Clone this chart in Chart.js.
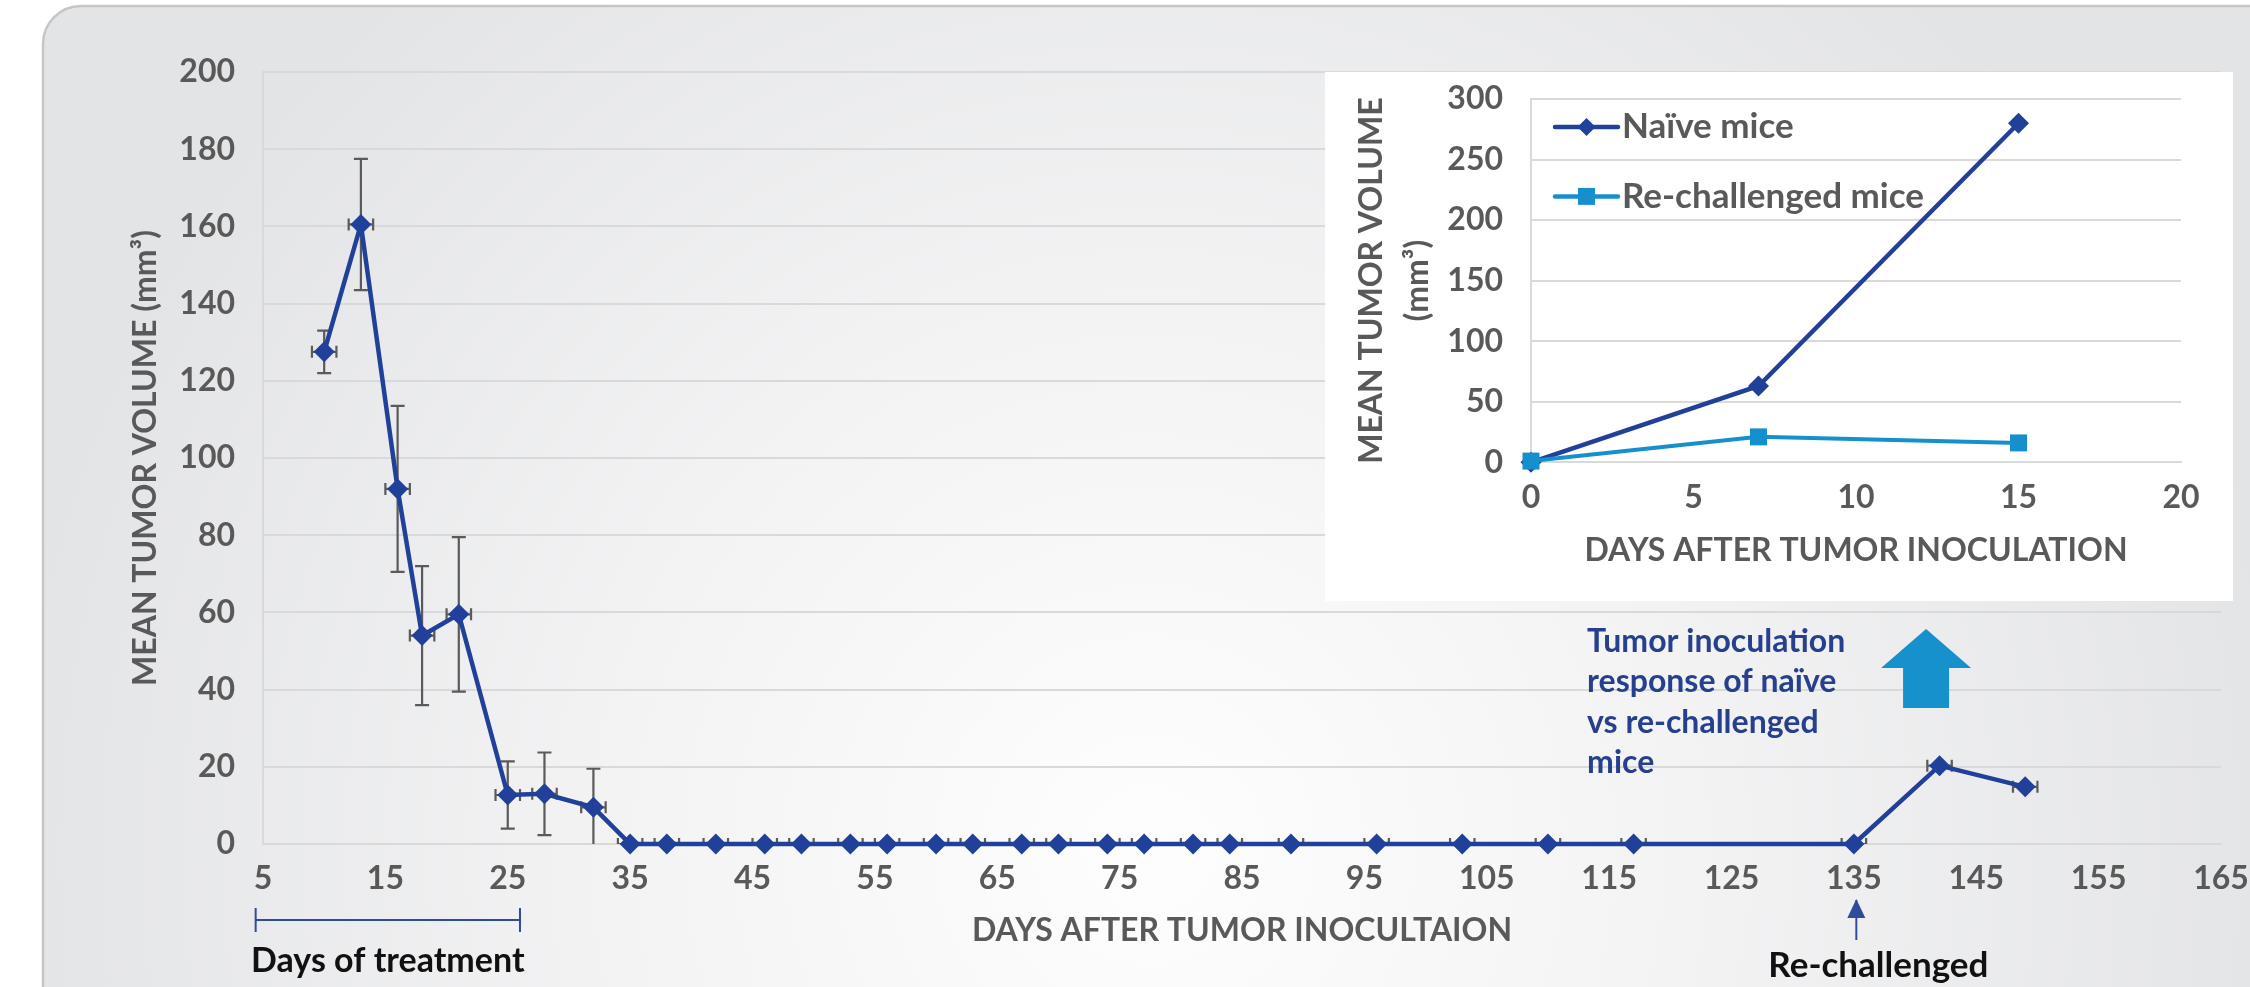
<!DOCTYPE html>
<html><head><meta charset="utf-8">
<script src="https://cdn.jsdelivr.net/npm/chart.js@4.4.1/dist/chart.umd.min.js"></script>
<style>
html,body{margin:0;padding:0;background:#fff;overflow:hidden;}
#wrap{position:relative;width:2250px;height:987px;}
#main{position:absolute;left:0;top:0;}
#inset{position:absolute;left:1325px;top:72px;}
</style></head><body>
<div id="wrap"><canvas id="main" width="2250" height="987"></canvas><canvas id="inset" width="908" height="529"></canvas></div>
<script>
// ---------- main chart data ----------
const days    = [10,13,16,18,21,25,28,32,35,38,42,46,49,53,56,60,63,67,70,74,77,81,84,89,96,103,110,117,135,142,149];
const volume  = [127.5,160.5,92,54,59.5,12.7,13,9.5,0,0,0,0,0,0,0,0,0,0,0,0,0,0,0,0,0,0,0,0,0,20.3,14.8];
const errVol  = [5.5,17,21.5,18,20,8.7,10.7,10,0,0,0,0,0,0,0,0,0,0,0,0,0,0,0,0,0,0,0,0,0,0,0];
const errDays = [1,1,1,1,1,1,1,1,1,1,1,1,1,1,1,1,1,1,1,1,1,1,1,1,1,1,1,1,1,1,1];
const xTickRange = [5,165,10];
const yTickRange = [0,200,20];

// ---------- inset chart data ----------
const insetDays    = [0,7,15];
const naive        = [0,63,280];
const rechallenged = [1,21,16];
const insetXRange  = [0,20,5];
const insetYRange  = [0,300,50];

const FONT = 'Lato';
const GRAY = '#595959';
const NAVY = '#21409a';
const LBLUE = '#1690cd';
const GRID = '#d9d9d9';

const panelPlugin = {
  id:'panel',
  beforeDraw(chart){
    const ctx = chart.ctx;
    ctx.save();
    ctx.fillStyle='#ffffff'; ctx.fillRect(0,0,chart.width,chart.height);
    const g = ctx.createRadialGradient(1150,850,40,1150,850,1150);
    g.addColorStop(0,'#fdfdfd'); g.addColorStop(0.45,'#f3f3f4'); g.addColorStop(1,'#e3e4e6');
    ctx.beginPath(); ctx.roundRect(43,6,2300,1100,38);
    ctx.fillStyle=g; ctx.fill();
    ctx.lineWidth=2.5; ctx.strokeStyle='#c6c6c6'; ctx.stroke();
    ctx.restore();
  }
};

const errorBarPlugin = {
  id:'errorBars',
  beforeDatasetsDraw(chart){
    const {ctx, chartArea:a, scales:{x,y}} = chart;
    ctx.save();
    ctx.beginPath(); ctx.rect(a.left, a.top, a.right-a.left, a.bottom-a.top); ctx.clip();
    ctx.strokeStyle='#5a5a5a'; ctx.lineWidth=2.2;
    days.forEach((d,i)=>{
      const px=x.getPixelForValue(d), py=y.getPixelForValue(volume[i]);
      const cap=7;
      if (errVol[i]>0){
        const t=y.getPixelForValue(volume[i]+errVol[i]), b=y.getPixelForValue(volume[i]-errVol[i]);
        ctx.beginPath(); ctx.moveTo(px,t); ctx.lineTo(px,b);
        ctx.moveTo(px-cap,t); ctx.lineTo(px+cap,t);
        ctx.moveTo(px-cap,b); ctx.lineTo(px+cap,b); ctx.stroke();
      }
      const l=x.getPixelForValue(d-errDays[i]), r=x.getPixelForValue(d+errDays[i]);
      ctx.beginPath(); ctx.moveTo(l,py); ctx.lineTo(r,py);
      ctx.moveTo(l,py-6); ctx.lineTo(l,py+6); ctx.moveTo(r,py-6); ctx.lineTo(r,py+6); ctx.stroke();
    });
    ctx.restore();
  }
};

const annotationPlugin = {
  id:'annot',
  afterDraw(chart){
    const {ctx, chartArea:a, scales:{x,y}} = chart;
    ctx.save();
    // treatment bracket
    const bx1=x.getPixelForValue(4.4), bx2=x.getPixelForValue(26), by=a.bottom+76;
    ctx.strokeStyle='#2f4c9c'; ctx.lineWidth=2;
    ctx.beginPath(); ctx.moveTo(bx1,by); ctx.lineTo(bx2,by);
    ctx.moveTo(bx1,by-12); ctx.lineTo(bx1,by+12); ctx.moveTo(bx2,by-12); ctx.lineTo(bx2,by+12); ctx.stroke();
    ctx.fillStyle='#111'; ctx.font='bold 34px '+FONT; ctx.textAlign='center'; ctx.textBaseline='alphabetic';
    ctx.fillText('Days of treatment', (bx1+bx2)/2, a.bottom+128);
    // re-challenge arrow
    const ax=x.getPixelForValue(135.2);
    ctx.beginPath(); ctx.moveTo(ax,a.bottom+96); ctx.lineTo(ax,a.bottom+56); ctx.stroke();
    ctx.fillStyle='#2f4c9c';
    ctx.beginPath(); ctx.moveTo(ax,a.bottom+55); ctx.lineTo(ax-9,a.bottom+74); ctx.lineTo(ax+9,a.bottom+74); ctx.closePath(); ctx.fill();
    ctx.fillStyle='#111'; ctx.font='bold 35px '+FONT;
    ctx.fillText('Re-challenged', x.getPixelForValue(137), a.bottom+133);
    // inset caption
    ctx.fillStyle='#26408f'; ctx.font='bold 32px '+FONT; ctx.textAlign='left';
    const tx=x.getPixelForValue(113.2);
    ['Tumor inoculation','response of naïve','vs re-challenged','mice'].forEach((s,i)=>{
      ctx.fillText(s, tx, y.getPixelForValue(49.8) + i*40.4);
    });
    // big up arrow
    const cx=x.getPixelForValue(140.9), tip=y.getPixelForValue(55.7);
    ctx.fillStyle='#1691cb';
    ctx.beginPath();
    ctx.moveTo(cx,tip); ctx.lineTo(cx+45,tip+39); ctx.lineTo(cx+23,tip+39); ctx.lineTo(cx+23,tip+79);
    ctx.lineTo(cx-23,tip+79); ctx.lineTo(cx-23,tip+39); ctx.lineTo(cx-45,tip+39); ctx.closePath(); ctx.fill();
    ctx.restore();
  }
};

const tickFont = {family:FONT,size:32,weight:'bold'};
const titleFont = {family:FONT,size:32,weight:'bold'};

function noPadX(s,h){ s.height=h; s.paddingLeft=0; s.paddingRight=0; }
function noPadY(s,w){ s.width=w; s.paddingTop=0; s.paddingBottom=0; }

new Chart(document.getElementById('main'), {
  type:'line',
  data:{datasets:[{label:'Mean tumor volume', data: days.map((d,i)=>({x:d,y:volume[i]})),
    borderColor:NAVY, backgroundColor:NAVY, borderWidth:4.5, pointStyle:'rectRot', pointRadius:10.5,
    pointBorderWidth:0, pointHoverRadius:10.5, tension:0, clip:false}]},
  options:{
    responsive:false, animation:false, devicePixelRatio:1,
    layout:{padding:{left:0,top:72,right:29,bottom:0}},
    plugins:{legend:{display:false}, tooltip:{enabled:false}},
    scales:{
      x:{type:'linear', min:xTickRange[0], max:xTickRange[1],
        ticks:{stepSize:xTickRange[2], color:GRAY, font:tickFont, padding:15, maxRotation:0, autoSkip:false},
        grid:{display:false, drawTicks:false}, border:{display:true,color:GRID,width:2},
        title:{display:true,text:'DAYS AFTER TUMOR INOCULTAION', color:GRAY, font:titleFont, padding:{top:0,bottom:37}},
        afterFit(s){noPadX(s,143);}},
      y:{min:yTickRange[0],max:yTickRange[1],
        ticks:{stepSize:yTickRange[2], color:GRAY, font:tickFont, padding:28},
        grid:{color:GRID, lineWidth:2, drawTicks:false}, border:{display:true,color:GRID,width:2},
        title:{display:true, text:'MEAN TUMOR VOLUME (mm³)', color:GRAY, font:titleFont, padding:{top:126,bottom:0}},
        afterFit(s){noPadY(s,263);}}
    }
  },
  plugins:[panelPlugin, errorBarPlugin, annotationPlugin]
});

const whiteBg = {id:'white', beforeDraw(c){const ctx=c.ctx; ctx.save(); ctx.fillStyle='#fff'; ctx.fillRect(0,0,c.width,c.height); ctx.restore();}};

function drawMarker(ctx, style, cx, cy, r, color){
  ctx.fillStyle=color; ctx.beginPath();
  if(style==='rectRot'){ctx.moveTo(cx,cy-r);ctx.lineTo(cx+r,cy);ctx.lineTo(cx,cy+r);ctx.lineTo(cx-r,cy);}
  else {const s=r*Math.SQRT1_2; ctx.rect(cx-s,cy-s,2*s,2*s);}
  ctx.closePath(); ctx.fill();
}

const insetLegend = {
  id:'insetLegend',
  afterDraw(chart){
    const {ctx, chartArea:a} = chart;
    ctx.save();
    chart.data.datasets.forEach((ds,i)=>{
      const yy=a.top+28+i*69.4, x1=a.left+24, x2=a.left+87;
      ctx.strokeStyle=ds.borderColor; ctx.lineWidth=4.5; ctx.lineCap='round';
      ctx.beginPath(); ctx.moveTo(x1,yy); ctx.lineTo(x2,yy); ctx.stroke();
      drawMarker(ctx, ds.pointStyle, (x1+x2)/2, yy, ds.pointStyle==='rectRot'?9:12, ds.borderColor);
      ctx.fillStyle=GRAY; ctx.font='bold 35px '+FONT; ctx.textAlign='left'; ctx.textBaseline='middle';
      ctx.fillText(ds.label, x2+4, yy);
    });
    ctx.restore();
  }
};

new Chart(document.getElementById('inset'), {
  type:'line',
  data:{datasets:[
    {label:'Naïve mice', data: insetDays.map((d,i)=>({x:d,y:naive[i]})), borderColor:NAVY, backgroundColor:NAVY,
     borderWidth:4.5, pointStyle:'rectRot', pointRadius:10.5, pointBorderWidth:0, tension:0, clip:false, order:1},
    {label:'Re-challenged mice', data: insetDays.map((d,i)=>({x:d,y:rechallenged[i]})), borderColor:LBLUE, backgroundColor:LBLUE,
     borderWidth:4, pointStyle:'rect', pointRadius:12, pointBorderWidth:0, tension:0, clip:false, order:0}
  ]},
  options:{
    responsive:false, animation:false, devicePixelRatio:1,
    layout:{padding:{left:0,top:27,right:52,bottom:0}},
    plugins:{legend:{display:false}, tooltip:{enabled:false}},
    scales:{
      x:{type:'linear', min:insetXRange[0], max:insetXRange[1],
        ticks:{stepSize:insetXRange[2], color:GRAY, font:tickFont, padding:16, maxRotation:0, autoSkip:false},
        grid:{display:false, drawTicks:false}, border:{display:true,color:GRID,width:2},
        title:{display:true,text:'DAYS AFTER TUMOR INOCULATION', color:GRAY, font:titleFont, padding:{top:0,bottom:31}},
        afterFit(s){noPadX(s,138.7);}},
      y:{min:insetYRange[0],max:insetYRange[1],
        ticks:{stepSize:insetYRange[2], color:GRAY, font:tickFont, padding:28},
        grid:{color:GRID, lineWidth:2, drawTicks:false}, border:{display:true,color:GRID,width:2},
        title:{display:true, text:['MEAN TUMOR VOLUME','(mm³)'], color:GRAY,
          font:{family:FONT,size:32,weight:'bold',lineHeight:1.46}, padding:{top:23,bottom:0}},
        afterFit(s){noPadY(s,206);}}
    }
  },
  plugins:[whiteBg, insetLegend]
});
</script>
</body></html>
